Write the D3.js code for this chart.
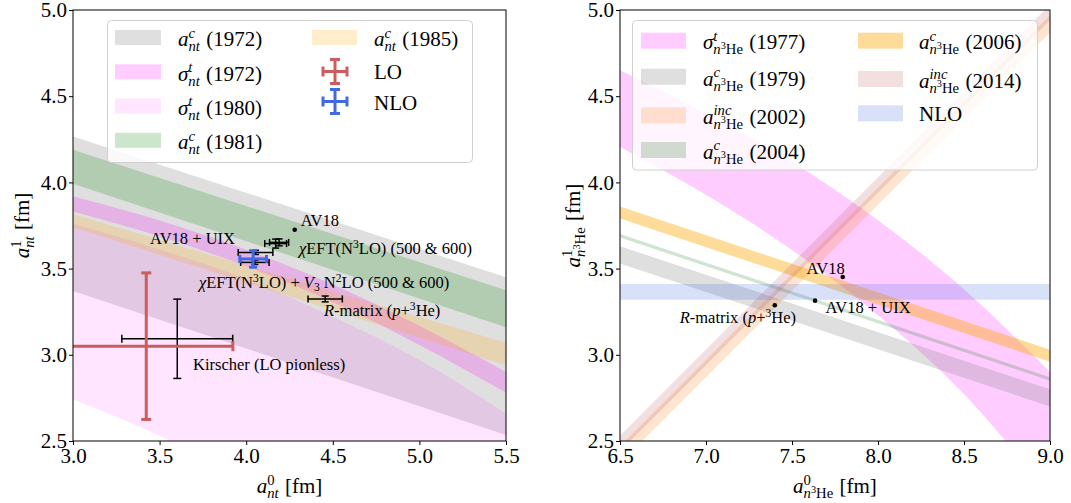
<!DOCTYPE html>
<html><head><meta charset="utf-8">
<script src="https://cdn.jsdelivr.net/npm/d3@7"></script>
<style>body{margin:0;background:#fff}svg{display:block}text{font-family:"Liberation Serif","Times New Roman",serif;fill:#000}</style>
</head><body>
<script>
// ---------------- DATA ----------------
// Left panel: n-3H  (a_nt^0 on x, a_nt^1 on y)
const ntTicksX = [3.0, 3.5, 4.0, 4.5, 5.0, 5.5];
const ntTicksY = [2.5, 3.0, 3.5, 4.0, 4.5, 5.0];
const nt_c1972_x = [3.0, 5.5], nt_c1972_lo = [3.37, 2.535], nt_c1972_hi = [4.266, 3.45];
const nt_s1972_x = [3.0, 3.5, 4.0, 4.5, 5.0, 5.5];
const nt_s1972_lo = [3.831, 3.687, 3.513, 3.306, 3.057, 2.78];
const nt_s1972_hi = [3.920, 3.779, 3.610, 3.408, 3.168, 2.90];
const nt_s1980_x = [3.0, 3.5, 4.0, 4.5, 5.0, 5.5];
const nt_s1980_lo = [2.74, 2.53, 2.27, 1.94, 1.47, 0.65];
const nt_s1980_hi = [3.76, 3.61, 3.44, 3.22, 2.97, 2.66];
const nt_c1981_x = [3.0, 5.5], nt_c1981_lo = [3.992, 3.16], nt_c1981_hi = [4.189, 3.375];
const nt_c1985_x = [3.0, 5.5], nt_c1985_lo = [3.74, 2.94], nt_c1985_hi = [3.815, 3.07];
// error-bar points: [x, y, xerr, yerr]
const ntLO = [3.423, 3.05, 0.5, 0.425];
const ntNLO = [4.04, 3.556, 0.077, 0.048];
const ntKirscher = [3.602, 3.093, 0.32, 0.23];
const ntChiEFT = [[4.17, 3.645, 0.063, 0.026], [4.19, 3.652, 0.055, 0.02]];
const ntChiEFT3N = [[4.054, 3.594, 0.10, 0.012], [4.05, 3.536, 0.082, 0.012]];
const ntRmatrix = [4.456, 3.324, 0.099, 0.017];
const ntAV18 = [4.28, 3.725];

// Right panel: n-3He
const heTicksX = [6.5, 7.0, 7.5, 8.0, 8.5, 9.0];
const heTicksY = [2.5, 3.0, 3.5, 4.0, 4.5, 5.0];
const he_s1977_x = [6.5, 7.0, 7.5, 8.0, 8.5, 9.0];
const he_s1977_lo = [4.205, 3.928, 3.608, 3.230, 2.772, 2.183];
const he_s1977_hi = [4.65, 4.40, 4.12, 3.78, 3.38, 2.90];
const he_c1979_x = [6.5, 9.0], he_c1979_lo = [3.53, 2.70], he_c1979_hi = [3.63, 2.80];
const he_i2002_x = [6.5, 9.0], he_i2002_lo = [2.37, 4.87], he_i2002_hi = [2.47, 4.97];
const he_c2004_x = [6.5, 9.0], he_c2004_lo = [3.68, 2.85], he_c2004_hi = [3.70, 2.87];
const he_c2006_x = [6.5, 9.0], he_c2006_lo = [3.79, 2.96], he_c2006_hi = [3.86, 3.03];
const he_i2014_x = [6.5, 9.0], he_i2014_lo = [2.44, 4.94], he_i2014_hi = [2.53, 5.03];
const he_NLO_x = [6.5, 9.0], he_NLO_lo = [3.32, 3.32], he_NLO_hi = [3.41, 3.41];
const heAV18 = [7.795, 3.451];
const heAV18UIX = [7.634, 3.314];
const heRmatrix = [7.40, 3.287];

// ---------------- DRAWING ----------------
const W = 1071, H = 503;
const svg = d3.select("body").append("svg").attr("width", W).attr("height", H);
const FS = 21, AFS = 16.5;

function run(g, x0, dy, items, size) {
  let x = x0;
  for (const it of items) {
    let s = size, off = dy;
    if (it.up) { s = size * 0.7; off = dy - size * 0.36; }
    if (it.down) { s = size * 0.7; off = dy + size * 0.22; }
    const t = g.append("text").attr("x", x).attr("y", off).attr("font-size", s)
      .attr("font-style", it.it ? "italic" : "normal").style("white-space", "pre").text(it.t);
    x += t.node().getComputedTextLength();
  }
  return x - x0;
}
function mtext(parent, x, y, tokens, fs, anchor, rot) {
  const g = parent.append("g");
  let cx = 0;
  for (const tk of tokens) {
    if (tk.stack) {
      const w1 = run(g, cx, -fs * 0.40, tk.sup, fs * 0.7);
      const w2 = run(g, cx, fs * 0.24, tk.sub, fs * 0.7);
      cx += Math.max(w1, w2) + fs * 0.05;
    } else if (tk.up || tk.down) {
      cx += run(g, cx, 0, [tk], fs);
    } else {
      cx += run(g, cx, 0, [tk], fs);
    }
  }
  let sx = 0;
  if (anchor === "end") sx = -cx; else if (anchor === "middle") sx = -cx / 2;
  if (rot) g.attr("transform", `translate(${x},${y}) rotate(-90) translate(${sx},0)`);
  else g.attr("transform", `translate(${x + sx},${y})`);
  return g;
}
const A = (sup, sub) => [{t: "a", it: 1}, {stack: 1, sup: sup, sub: sub}];
const S = (sup, sub) => [{t: "σ", it: 1}, {stack: 1, sup: sup, sub: sub}];
const subNT = [{t: "nt", it: 1}];
const subHe = [{t: "n", it: 1}, {t: "3", up: 1}, {t: "He"}];

function errbar(g, xs, ys, p, color, lw, cap) {
  const [x, y, xe, ye] = p;
  const cx = xs(x), cy = ys(y), x0 = xs(x - xe), x1 = xs(x + xe), y0 = ys(y - ye), y1 = ys(y + ye);
  const segs = [[x0, cy, x1, cy], [cx, y0, cx, y1], [x0, cy - cap, x0, cy + cap], [x1, cy - cap, x1, cy + cap],
    [cx - cap, y0, cx + cap, y0], [cx - cap, y1, cx + cap, y1]];
  g.selectAll(null).data(segs).join("line")
    .attr("x1", d => d[0]).attr("y1", d => d[1]).attr("x2", d => d[2]).attr("y2", d => d[3])
    .attr("stroke", color).attr("stroke-width", lw);
}
function legendCross(g, cx, cy, color) {
  const h = 12, c = 5;
  const segs = [[cx - h, cy, cx + h, cy], [cx, cy - h, cx, cy + h], [cx - h, cy - c, cx - h, cy + c],
    [cx + h, cy - c, cx + h, cy + c], [cx - c, cy - h, cx + c, cy - h], [cx - c, cy + h, cx + c, cy + h]];
  g.selectAll(null).data(segs).join("line")
    .attr("x1", d => d[0]).attr("y1", d => d[1]).attr("x2", d => d[2]).attr("y2", d => d[3])
    .attr("stroke", color).attr("stroke-width", 3);
}

function panel(id, xs, ys, ticksX, ticksY, bands) {
  const [L, R] = xs.range(), [B, T] = ys.range();
  const g = svg.append("g");
  svg.append("clipPath").attr("id", id).append("rect").attr("x", L).attr("y", T).attr("width", R - L).attr("height", B - T);
  const plot = g.append("g").attr("clip-path", `url(#${id})`);
  const area = d3.area().x(d => xs(d[0])).y0(d => ys(d[1])).y1(d => ys(d[2])).curve(d3.curveMonotoneX);
  for (const b of bands) {
    const pts = b.x.map((v, i) => [v, b.lo[i], b.hi[i]]);
    plot.append("path").attr("d", area(pts)).attr("fill", b.color).attr("fill-opacity", b.op).attr("stroke", "none");
  }
  const fmt = d3.format(".1f");
  const ax = g.append("g").attr("transform", `translate(0,${B})`)
    .call(d3.axisBottom(xs).tickValues(ticksX).tickFormat(fmt).tickSize(4).tickPadding(3));
  const ay = g.append("g").attr("transform", `translate(${L},0)`)
    .call(d3.axisLeft(ys).tickValues(ticksY).tickFormat(fmt).tickSize(4).tickPadding(2));
  for (const a of [ax, ay]) {
    a.select(".domain").remove();
    a.selectAll("text").attr("font-size", FS).attr("font-family", '"Liberation Serif",serif');
    a.selectAll("line").attr("stroke", "#000");
  }
  g.append("rect").attr("x", L).attr("y", T).attr("width", R - L).attr("height", B - T)
    .attr("fill", "none").attr("stroke", "#000").attr("stroke-width", 1);
  return {g, plot};
}

// ---------- Left panel ----------
const xL = d3.scaleLinear([3.0, 5.5], [73, 506]);
const yL = d3.scaleLinear([2.5, 5.0], [441, 10]);
const leftBands = [
  {x: nt_c1972_x, lo: nt_c1972_lo, hi: nt_c1972_hi, color: "#808080", op: 0.25},
  {x: nt_s1972_x, lo: nt_s1972_lo, hi: nt_s1972_hi, color: "#ff00ff", op: 0.2},
  {x: nt_s1980_x, lo: nt_s1980_lo, hi: nt_s1980_hi, color: "#ff00ff", op: 0.1},
  {x: nt_c1981_x, lo: nt_c1981_lo, hi: nt_c1981_hi, color: "#008000", op: 0.2},
  {x: nt_c1985_x, lo: nt_c1985_lo, hi: nt_c1985_hi, color: "#ffa500", op: 0.2}
];
const PL = panel("clipL", xL, yL, ntTicksX, ntTicksY, leftBands);
const pl = PL.plot;
errbar(pl, xL, yL, ntKirscher, "#000", 1.5, 4);
errbar(pl, xL, yL, ntLO, "#cd5c5c", 3, 5);
ntChiEFT.forEach(p => errbar(pl, xL, yL, p, "#000", 1.5, 3.5));
ntChiEFT3N.forEach(p => errbar(pl, xL, yL, p, "#000", 1.5, 3.5));
errbar(pl, xL, yL, ntNLO, "#4169e1", 3, 4);
errbar(pl, xL, yL, ntRmatrix, "#000", 1.5, 3.5);
pl.append("circle").attr("cx", xL(ntAV18[0])).attr("cy", yL(ntAV18[1])).attr("r", 2.3).attr("fill", "#000");

// annotations (left)
mtext(PL.g, xL(ntAV18[0]) + 6, yL(ntAV18[1]) - 4, [{t: "AV18"}], AFS, "start");
mtext(PL.g, 235, 244, [{t: "AV18 + UIX"}], AFS, "end");
mtext(PL.g, 299, 253.5, [{t: "χ", it: 1}, {t: "EFT(N"}, {t: "3", up: 1}, {t: "LO) (500 & 600)"}], AFS, "start");
mtext(PL.g, 199, 287.5, [{t: "χ", it: 1}, {t: "EFT(N"}, {t: "3", up: 1}, {t: "LO) + "}, {t: "V", it: 1}, {t: "3", down: 1},
  {t: " N"}, {t: "2", up: 1}, {t: "LO (500 & 600)"}], AFS, "start");
mtext(PL.g, 324, 316, [{t: "R", it: 1}, {t: "-matrix ("}, {t: "p", it: 1}, {t: "+"}, {t: "3", up: 1}, {t: "He)"}], AFS, "start");
mtext(PL.g, 193, 369.5, [{t: "Kirscher (LO pionless)"}], AFS, "start");

// axis labels (left)
mtext(svg, 289.5, 493, [...A([{t: "0"}], subNT), {t: " [fm]"}], FS, "middle");
mtext(svg, 29, 225.5, [...A([{t: "1"}], subNT), {t: " [fm]"}], FS, "middle", true);

// legend (left)
const lg = svg.append("g");
lg.append("rect").attr("x", 107.5).attr("y", 20.5).attr("width", 365).attr("height", 142).attr("rx", 4)
  .attr("fill", "#fff").attr("fill-opacity", 0.8).attr("stroke", "#d0d0d0").attr("stroke-width", 1);
const leftLegend = [
  {b: 0, lab: [...A([{t: "c", it: 1}], subNT), {t: " (1972)"}], cy: 37.5, by: 46},
  {b: 1, lab: [...S([{t: "t", it: 1}], subNT), {t: " (1972)"}], cy: 71.8, by: 80.5},
  {b: 2, lab: [...S([{t: "t", it: 1}], subNT), {t: " (1980)"}], cy: 106, by: 114.8},
  {b: 3, lab: [...A([{t: "c", it: 1}], subNT), {t: " (1981)"}], cy: 140.3, by: 149}
];
leftLegend.forEach(d => {
  const b = leftBands[d.b];
  lg.append("rect").attr("x", 115).attr("y", d.cy - 7.5).attr("width", 46).attr("height", 15).attr("fill", b.color).attr("fill-opacity", b.op);
  mtext(lg, 178, d.by, d.lab, FS, "start");
});
lg.append("rect").attr("x", 312).attr("y", 30).attr("width", 45).attr("height", 15).attr("fill", leftBands[4].color).attr("fill-opacity", leftBands[4].op);
mtext(lg, 374, 46, [...A([{t: "c", it: 1}], subNT), {t: " (1985)"}], FS, "start");
legendCross(lg, 335, 71.5, "#cd5c5c");
mtext(lg, 374, 78.5, [{t: "LO"}], FS, "start");
legendCross(lg, 335, 101.5, "#4169e1");
mtext(lg, 374, 109.5, [{t: "NLO"}], FS, "start");

// ---------- Right panel ----------
const xR = d3.scaleLinear([6.5, 9.0], [620, 1050]);
const yR = d3.scaleLinear([2.5, 5.0], [441, 10]);
const rightBands = [
  {x: he_s1977_x, lo: he_s1977_lo, hi: he_s1977_hi, color: "#ff00ff", op: 0.2},
  {x: he_c1979_x, lo: he_c1979_lo, hi: he_c1979_hi, color: "#808080", op: 0.25},
  {x: he_i2002_x, lo: he_i2002_lo, hi: he_i2002_hi, color: "#ff7f0e", op: 0.2},
  {x: he_c2004_x, lo: he_c2004_lo, hi: he_c2004_hi, color: "#006400", op: 0.18},
  {x: he_c2006_x, lo: he_c2006_lo, hi: he_c2006_hi, color: "#ffa500", op: 0.4},
  {x: he_i2014_x, lo: he_i2014_lo, hi: he_i2014_hi, color: "#a52a2a", op: 0.15},
  {x: he_NLO_x, lo: he_NLO_lo, hi: he_NLO_hi, color: "#4169e1", op: 0.2}
];
const PR = panel("clipR", xR, yR, heTicksX, heTicksY, rightBands);
[heAV18, heAV18UIX, heRmatrix].forEach(p =>
  PR.plot.append("circle").attr("cx", xR(p[0])).attr("cy", yR(p[1])).attr("r", 2.3).attr("fill", "#000"));
mtext(PR.g, 806.5, 273.5, [{t: "AV18"}], AFS, "start");
mtext(PR.g, 825.5, 312.5, [{t: "AV18 + UIX"}], AFS, "start");
mtext(PR.g, 796, 323, [{t: "R", it: 1}, {t: "-matrix ("}, {t: "p", it: 1}, {t: "+"}, {t: "3", up: 1}, {t: "He)"}], AFS, "end");

mtext(svg, 835, 493, [...A([{t: "0"}], subHe), {t: " [fm]"}], FS, "middle");
mtext(svg, 580, 225.5, [...A([{t: "1"}], subHe), {t: " [fm]"}], FS, "middle", true);

const rg = svg.append("g");
rg.append("rect").attr("x", 632.5).attr("y", 20.5).attr("width", 405).attr("height", 149.5).attr("rx", 4)
  .attr("fill", "#fff").attr("fill-opacity", 0.8).attr("stroke", "#d0d0d0").attr("stroke-width", 1);
const rightLegend = [
  {b: 0, px: 641, tx: 703, cy: 40.7, by: 49.3, lab: [...S([{t: "t", it: 1}], subHe), {t: " (1977)"}]},
  {b: 1, px: 641, tx: 703, cy: 76.7, by: 85.5, lab: [...A([{t: "c", it: 1}], subHe), {t: " (1979)"}]},
  {b: 2, px: 641, tx: 703, cy: 115.3, by: 123.5, lab: [...A([{t: "inc", it: 1}], subHe), {t: " (2002)"}]},
  {b: 3, px: 641, tx: 703, cy: 150, by: 158.5, lab: [...A([{t: "c", it: 1}], subHe), {t: " (2004)"}]},
  {b: 4, px: 858, tx: 919, cy: 40.7, by: 49.3, lab: [...A([{t: "c", it: 1}], subHe), {t: " (2006)"}]},
  {b: 5, px: 858, tx: 919, cy: 79, by: 87.5, lab: [...A([{t: "inc", it: 1}], subHe), {t: " (2014)"}]},
  {b: 6, px: 858, tx: 919, cy: 113.3, by: 121, lab: [{t: "NLO"}]}
];
rightLegend.forEach(d => {
  const b = rightBands[d.b];
  rg.append("rect").attr("x", d.px).attr("y", d.cy - 8).attr("width", 45).attr("height", 16).attr("fill", b.color).attr("fill-opacity", b.op);
  mtext(rg, d.tx, d.by, d.lab, FS, "start");
});
</script>
</body></html>
